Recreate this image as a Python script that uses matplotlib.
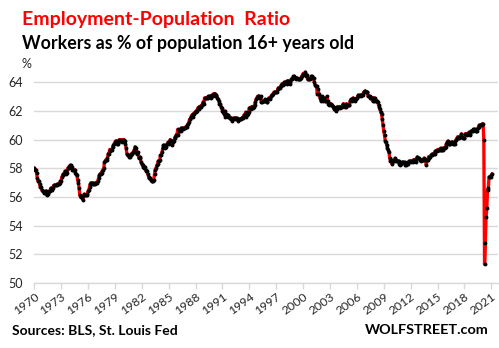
import matplotlib
matplotlib.use("Agg")
import matplotlib.pyplot as plt
import numpy as np

# Employment-population ratio, monthly, seasonally adjusted (%)
years = list(range(1970, 2022))
ratio_by_year = {
    1970: [58.0, 57.9, 57.9, 57.7, 57.3, 57.1, 57.1, 56.9, 56.7, 56.7, 56.5, 56.4],
    1971: [56.4, 56.3, 56.3, 56.4, 56.4, 56.1, 56.2, 56.3, 56.4, 56.4, 56.6, 56.6],
    1972: [56.5, 56.6, 56.8, 56.8, 56.8, 56.8, 56.8, 56.9, 56.9, 56.9, 57.0, 57.1],
    1973: [57.1, 57.4, 57.5, 57.6, 57.6, 57.8, 57.8, 57.6, 57.7, 58.0, 58.1, 58.0],
    1974: [58.2, 58.2, 58.1, 57.9, 57.9, 57.9, 57.9, 57.7, 57.6, 57.5, 57.2, 57.0],
    1975: [56.6, 56.1, 56.0, 56.0, 56.0, 55.8, 56.1, 56.2, 56.1, 56.1, 56.1, 56.2],
    1976: [56.4, 56.5, 56.7, 56.9, 57.0, 56.9, 57.0, 56.9, 56.9, 56.9, 57.0, 57.0],
    1977: [57.0, 57.1, 57.3, 57.5, 57.6, 57.6, 57.7, 57.8, 57.9, 58.0, 58.4, 58.5],
    1978: [58.6, 58.6, 58.7, 59.0, 59.0, 59.3, 59.2, 59.3, 59.3, 59.5, 59.6, 59.7],
    1979: [59.8, 59.9, 59.9, 59.7, 59.7, 59.9, 60.0, 59.9, 60.0, 59.8, 59.9, 60.0],
    1980: [60.0, 59.9, 59.7, 59.4, 59.0, 58.9, 58.9, 58.8, 58.8, 58.9, 59.0, 59.0],
    1981: [59.1, 59.1, 59.3, 59.5, 59.4, 59.0, 59.1, 59.1, 58.7, 58.8, 58.7, 58.4],
    1982: [58.3, 58.2, 58.1, 58.0, 58.1, 57.9, 57.8, 57.8, 57.6, 57.4, 57.3, 57.3],
    1983: [57.2, 57.1, 57.1, 57.1, 57.2, 57.6, 57.9, 58.0, 58.2, 58.3, 58.5, 58.5],
    1984: [58.6, 58.9, 58.9, 59.1, 59.4, 59.6, 59.6, 59.4, 59.5, 59.6, 59.7, 59.8],
    1985: [59.7, 59.8, 60.0, 59.9, 59.9, 59.6, 59.8, 59.9, 60.1, 60.2, 60.3, 60.3],
    1986: [60.7, 60.3, 60.6, 60.7, 60.6, 60.8, 60.8, 60.7, 60.8, 60.8, 60.8, 60.9],
    1987: [60.9, 61.0, 61.1, 61.2, 61.4, 61.4, 61.6, 61.7, 61.6, 61.8, 61.8, 61.9],
    1988: [61.9, 62.0, 62.0, 62.2, 62.1, 62.3, 62.3, 62.3, 62.4, 62.4, 62.6, 62.5],
    1989: [62.9, 62.9, 62.9, 62.9, 62.9, 63.0, 63.0, 63.0, 62.9, 63.0, 63.1, 63.0],
    1990: [63.2, 63.2, 63.2, 63.0, 63.1, 62.9, 62.8, 62.7, 62.5, 62.5, 62.3, 62.2],
    1991: [62.0, 61.9, 61.8, 62.0, 61.6, 61.8, 61.7, 61.6, 61.7, 61.6, 61.5, 61.4],
    1992: [61.5, 61.3, 61.4, 61.5, 61.5, 61.4, 61.5, 61.5, 61.4, 61.3, 61.4, 61.4],
    1993: [61.4, 61.4, 61.5, 61.5, 61.6, 61.7, 61.7, 61.9, 61.6, 61.7, 61.8, 61.9],
    1994: [62.2, 62.2, 62.1, 62.3, 62.3, 62.2, 62.3, 62.4, 62.6, 62.8, 62.9, 63.0],
    1995: [63.0, 63.0, 62.9, 63.0, 62.6, 62.6, 62.7, 62.7, 62.7, 62.8, 62.7, 62.6],
    1996: [62.6, 62.8, 62.9, 62.8, 62.9, 63.0, 63.1, 63.1, 63.2, 63.3, 63.3, 63.3],
    1997: [63.3, 63.3, 63.5, 63.6, 63.6, 63.6, 63.7, 63.8, 63.9, 63.8, 63.9, 64.0],
    1998: [64.0, 64.0, 63.9, 64.1, 64.1, 64.0, 64.0, 63.9, 64.2, 64.2, 64.3, 64.4],
    1999: [64.4, 64.3, 64.3, 64.2, 64.3, 64.2, 64.2, 64.2, 64.2, 64.3, 64.4, 64.4],
    2000: [64.6, 64.6, 64.6, 64.7, 64.4, 64.5, 64.2, 64.2, 64.2, 64.2, 64.3, 64.4],
    2001: [64.4, 64.3, 64.3, 64.0, 63.8, 63.7, 63.7, 63.2, 63.5, 63.2, 63.0, 62.9],
    2002: [62.7, 63.0, 62.8, 62.7, 62.9, 62.7, 62.7, 62.7, 63.0, 62.7, 62.5, 62.4],
    2003: [62.5, 62.5, 62.4, 62.4, 62.3, 62.3, 62.1, 62.1, 62.0, 62.1, 62.3, 62.2],
    2004: [62.3, 62.3, 62.2, 62.3, 62.3, 62.4, 62.5, 62.4, 62.3, 62.3, 62.5, 62.4],
    2005: [62.4, 62.4, 62.4, 62.7, 62.8, 62.7, 62.8, 62.9, 62.8, 62.8, 62.7, 62.8],
    2006: [62.9, 63.0, 63.1, 63.0, 63.1, 63.1, 63.0, 63.1, 63.1, 63.3, 63.3, 63.4],
    2007: [63.3, 63.3, 63.3, 63.0, 63.0, 63.0, 62.9, 62.9, 62.9, 62.7, 62.9, 62.7],
    2008: [62.9, 62.7, 62.7, 62.7, 62.6, 62.4, 62.3, 62.1, 61.9, 61.8, 61.4, 61.0],
    2009: [60.6, 60.3, 59.9, 59.8, 59.6, 59.4, 59.3, 59.1, 58.7, 58.5, 58.6, 58.3],
    2010: [58.5, 58.5, 58.5, 58.7, 58.6, 58.5, 58.5, 58.5, 58.5, 58.3, 58.2, 58.3],
    2011: [58.4, 58.4, 58.4, 58.4, 58.4, 58.2, 58.2, 58.3, 58.3, 58.4, 58.5, 58.5],
    2012: [58.4, 58.5, 58.5, 58.4, 58.6, 58.6, 58.5, 58.4, 58.7, 58.8, 58.7, 58.7],
    2013: [58.6, 58.6, 58.5, 58.6, 58.6, 58.6, 58.7, 58.6, 58.6, 58.2, 58.6, 58.6],
    2014: [58.8, 58.7, 58.8, 58.9, 58.9, 59.0, 59.0, 59.0, 59.0, 59.2, 59.2, 59.2],
    2015: [59.3, 59.3, 59.3, 59.3, 59.4, 59.3, 59.3, 59.4, 59.3, 59.4, 59.4, 59.5],
    2016: [59.7, 59.8, 59.9, 59.7, 59.7, 59.7, 59.8, 59.8, 59.8, 59.7, 59.7, 59.7],
    2017: [59.9, 60.0, 60.1, 60.2, 60.1, 60.1, 60.2, 60.2, 60.4, 60.2, 60.1, 60.1],
    2018: [60.1, 60.4, 60.4, 60.3, 60.4, 60.4, 60.5, 60.3, 60.4, 60.6, 60.6, 60.6],
    2019: [60.7, 60.7, 60.7, 60.6, 60.6, 60.6, 60.8, 60.9, 61.0, 61.0, 61.0, 61.0],
    2020: [61.1, 61.1, 60.0, 51.3, 52.8, 54.6, 55.2, 56.5, 56.6, 57.4, 57.4, 57.4],
    2021: [57.5, 57.6],
}
tick_years = list(range(1970, 2022, 3))
y_ticks = [50, 52, 54, 56, 58, 60, 62, 64]

# Monthly series on a decimal-year axis
dates, values = [], []
for yr in years:
    for m, v in enumerate(ratio_by_year[yr]):
        dates.append(yr + m / 12.0)
        values.append(v)

W, H = 499, 348
fig = plt.figure(figsize=(W / 100, H / 100), dpi=100)
plt.rcParams["font.family"] = ["Lato", "DejaVu Sans"]

# Plot area in pixel terms
left, right, top, bottom = 34.3, 498.0, 60.6, 283.0
ax = fig.add_axes([left / W, 1 - bottom / H, (right - left) / W, (bottom - top) / H])

ax.plot(dates, values, color="#ff0000", lw=2.4, zorder=3)
ax.plot(dates, values, ls="none", marker="o", ms=2.8, mfc="black",
        mec="black", mew=0, zorder=4)

ax.set_xlim(1970, 2021.75)
ax.set_ylim(50, 65.5)
ax.set_yticks(y_ticks)
ax.set_xticks(tick_years)
ax.set_xticklabels([str(t) for t in tick_years], rotation=36, ha="right",
                   rotation_mode="anchor")

ax.grid(axis="y", color="#d9d9d9", lw=1.0)
ax.set_axisbelow(True)
for s in ["top", "right", "left"]:
    ax.spines[s].set_visible(False)
ax.spines["bottom"].set_color("#d9d9d9")
ax.spines["bottom"].set_linewidth(1.0)
ax.tick_params(axis="y", length=0, pad=8, labelsize=9, labelcolor="#262626")
ax.tick_params(axis="x", length=4, width=1.0, color="#d9d9d9", pad=2,
               labelsize=8.8, labelcolor="#262626")

def fy(py):
    return 1 - py / H

fig.text(22 / W, fy(25), "Employment-Population  Ratio", color="#ff0000",
         fontsize=14, fontweight="bold", va="baseline", ha="left")
fig.text(22 / W, fy(48.5), "Workers as % of population 16+ years old",
         color="black", fontsize=12.8, fontweight="bold", va="baseline", ha="left")
fig.text(21.5 / W, fy(68), "%", color="#262626", fontsize=9, va="baseline", ha="left")
fig.text(12.5 / W, fy(334.5), "Sources: BLS, St. Louis Fed", color="black",
         fontsize=10, fontweight="bold", va="baseline", ha="left")
fig.text(489 / W, fy(333.5), "WOLFSTREET.com", color="black",
         fontsize=10.4, fontweight="bold", va="baseline", ha="right")

fig.savefig("out.png", dpi=100)
